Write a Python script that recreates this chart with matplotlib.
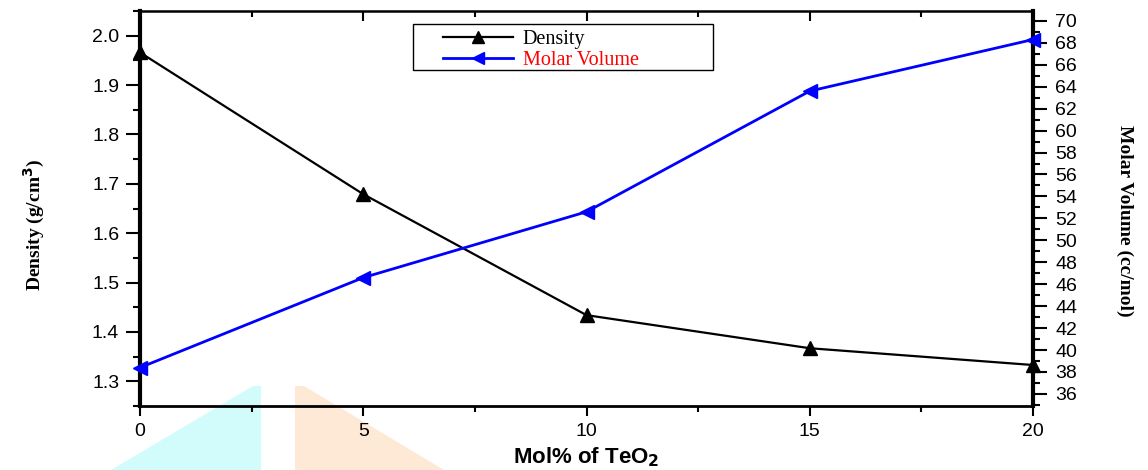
import matplotlib
matplotlib.use("Agg")
import matplotlib.pyplot as plt
from matplotlib.patches import Polygon, Rectangle
from matplotlib.ticker import MultipleLocator
from matplotlib.lines import Line2D

# ---- data ----
teo2_mol = [0, 5, 10, 15, 20]
density = [1.966, 1.679, 1.434, 1.367, 1.333]
molar_volume = [38.4, 46.6, 52.6, 63.6, 68.3]
x_ticks = [0, 5, 10, 15, 20]
x_tick_labels = ["0", "5", "10", "15", "20"]
density_ticks = [1.3, 1.4, 1.5, 1.6, 1.7, 1.8, 1.9, 2.0]
volume_ticks = list(range(36, 71, 2))

W, H = 1148, 470
fig = plt.figure(figsize=(W / 100, H / 100), dpi=100)

# watermark triangles (figure decoration, pixel coords from top-left)
def px(pts):
    return [(x / W, 1 - y / H) for x, y in pts]

fig.patches.append(Polygon(px([(111, 470), (253, 386), (261, 386), (261, 470)]),
                           closed=True, transform=fig.transFigure,
                           facecolor="#d2fbfb", edgecolor="none", zorder=-5))
fig.patches.append(Polygon(px([(295, 470), (295, 386), (304, 386), (444, 470)]),
                           closed=True, transform=fig.transFigure,
                           facecolor="#fde9d5", edgecolor="none", zorder=-5))

left, right = 140 / W, 1033 / W
bottom, top = 1 - 406 / H, 1 - 11 / H
ax = fig.add_axes([left, bottom, right - left, top - bottom])
ax2 = ax.twinx()
ax.patch.set_visible(False)
ax2.patch.set_visible(False)

tick_font = dict(family="Liberation Sans", size=14)

ax.plot(teo2_mol, density, color="black", lw=1.6, marker="^", ms=10,
        clip_on=False, zorder=5)
ax2.plot(teo2_mol, molar_volume, color="#0000ff", lw=2.0, marker="<", ms=10,
         clip_on=False, zorder=5)

ax.set_xlim(0, 20)
ax.set_ylim(1.25, 2.05)
ax2.set_ylim(34.9, 70.9)

ax.set_xticks(x_ticks)
ax.set_xticklabels(x_tick_labels, **tick_font)
ax.xaxis.set_minor_locator(MultipleLocator(2.5))
ax.yaxis.set_minor_locator(MultipleLocator(0.05))
ax.set_yticks(density_ticks)
ax.set_yticklabels([f"{v:.1f}" for v in density_ticks], **tick_font)
ax2.set_yticks(volume_ticks)
ax2.set_yticklabels([str(v) for v in volume_ticks], **tick_font)
ax2.yaxis.set_minor_locator(MultipleLocator(1))

ax.tick_params(axis="y", which="major", direction="out", length=10, width=1.5, pad=5)
ax.tick_params(axis="y", which="minor", direction="out", length=5, width=1.5)
ax.tick_params(axis="x", which="major", direction="out", length=7, width=1.5, pad=5,
               top=True)
ax.tick_params(axis="x", which="minor", direction="out", length=4, width=1.5, top=True)
ax2.tick_params(axis="y", which="major", direction="out", length=10, width=1.5, pad=6)
ax2.tick_params(axis="y", which="minor", direction="out", length=5, width=1.5)

# top ticks point inward
for t in ax.xaxis.get_major_ticks() + ax.xaxis.get_minor_ticks():
    t.tick2line.set_marker(3)  # TICKDOWN

ax.spines["left"].set_linewidth(3.0)
ax.spines["bottom"].set_linewidth(2.0)
ax.spines["top"].set_linewidth(1.8)
ax.spines["right"].set_visible(False)
for s in ["left", "top", "bottom"]:
    ax2.spines[s].set_visible(False)
ax2.spines["right"].set_linewidth(3.0)

ax.set_xlabel("Mol% of TeO$_\\mathbf{2}$", fontsize=16, fontweight="bold",
              family="Liberation Sans")
ax.xaxis.set_label_coords(0.5, -0.10)
ax.set_ylabel("Density (g/cm$^\\mathbf{3}$)", fontsize=14, fontweight="bold",
              family="Liberation Serif", va="center")
ax.yaxis.set_label_coords(-0.118, 0.458)
ax2.set_ylabel("Molar Volume (cc/mol)", fontsize=14, fontweight="bold",
               family="Liberation Serif", rotation=270, va="center")
ax2.yaxis.set_label_coords(1.103, 0.468)

# legend box
ax.add_patch(Rectangle((273 / 893, 1 - 59 / 395), 300 / 893, 46 / 395,
                       transform=ax.transAxes, facecolor="white",
                       edgecolor="black", lw=1.0, zorder=9, clip_on=False))
handles = [Line2D([], [], color="black", lw=1.6, marker="^", ms=9),
           Line2D([], [], color="#0000ff", lw=2.0, marker="<", ms=9)]
leg = ax.legend(handles, ["Density", "Molar Volume"], loc="center left",
                bbox_to_anchor=((443 - 140) / 893, 1 - 39 / 395),
                borderaxespad=0, borderpad=0,
                prop=dict(family="Liberation Serif", size=14.5), numpoints=1,
                handlelength=3.5, handletextpad=0.45, labelspacing=0.05,
                frameon=False)
leg.get_texts()[1].set_color("red")
leg.set_zorder(10)

fig.savefig("out.png", dpi=100)
